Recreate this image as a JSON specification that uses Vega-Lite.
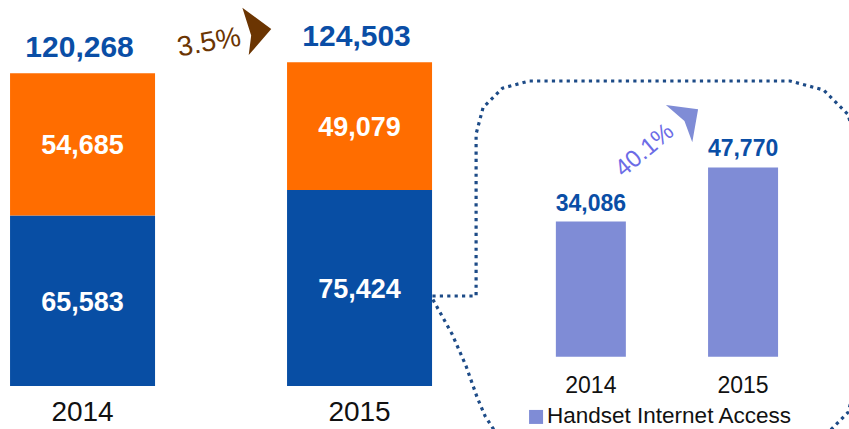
{
  "$schema": "https://vega.github.io/schema/vega-lite/v6.json",
  "width": 849,
  "height": 429,
  "autosize": {"type": "fit", "contains": "padding"},
  "padding": 0,
  "background": "white",
  "config": {"view": {"stroke": null}, "font": "Liberation Sans"},
  "datasets": {
    "subscribers": [
      {"year": 2014, "segment": "A", "value": 65583},
      {"year": 2014, "segment": "B", "value": 54685},
      {"year": 2015, "segment": "A", "value": 75424},
      {"year": 2015, "segment": "B", "value": 49079}
    ],
    "totals": [
      {"year": 2014, "total": 120268},
      {"year": 2015, "total": 124503}
    ],
    "handset": [
      {"year": 2014, "users": 34086},
      {"year": 2015, "users": 47770}
    ],
    "callout": [
      {"i": 0, "x": 2014.060, "y": -22532},
      {"i": 1, "x": 2013.600, "y": -22532},
      {"i": 2, "x": 2013.469, "y": -21523},
      {"i": 3, "x": 2013.364, "y": -18495},
      {"i": 4, "x": 2013.305, "y": -14962},
      {"i": 5, "x": 2013.252, "y": -10168},
      {"i": 6, "x": 2013.180, "y": -2346},
      {"i": 7, "x": 2013.088, "y": 5729},
      {"i": 8, "x": 2012.960, "y": 14560},
      {"i": 9, "x": 2012.956, "y": 15320},
      {"i": 10, "x": 2013.246, "y": 15320},
      {"i": 11, "x": 2013.246, "y": 56195},
      {"i": 12, "x": 2013.292, "y": 62882},
      {"i": 13, "x": 2013.420, "y": 67777},
      {"i": 14, "x": 2013.594, "y": 69568},
      {"i": 15, "x": 2015.309, "y": 69568},
      {"i": 16, "x": 2015.529, "y": 67297},
      {"i": 17, "x": 2015.690, "y": 61115},
      {"i": 18, "x": 2015.749, "y": 52662},
      {"i": 19, "x": 2015.749, "y": -5626},
      {"i": 20, "x": 2015.690, "y": -14079},
      {"i": 21, "x": 2015.529, "y": -20261},
      {"i": 22, "x": 2015.309, "y": -22532}
    ]
  },
  "layer": [
    {
      "layer": [
        {
          "data": {"name": "subscribers"},
          "transform": [
            {"stack": "value", "groupby": ["year"], "sort": [{"field": "segment"}], "as": ["v0", "v1"]}
          ],
          "mark": {"type": "bar", "width": 145},
          "encoding": {
            "x": {"field": "year", "type": "quantitative", "axis": null,
                  "scale": {"domain": [2013.702, 2016.767], "padding": 0, "nice": false, "zero": false}},
            "y": {"field": "v0", "type": "quantitative", "axis": null,
                  "scale": {"domain": [-16538, 148462], "nice": false, "zero": false}},
            "y2": {"field": "v1"},
            "color": {"field": "segment", "type": "nominal", "legend": null,
                      "scale": {"domain": ["A", "B"], "range": ["#084ea4", "#ff6d00"]}}
          }
        },
        {
          "data": {"name": "subscribers"},
          "transform": [
            {"stack": "value", "groupby": ["year"], "sort": [{"field": "segment"}], "as": ["v0", "v1"]},
            {"calculate": "(datum.v0 + datum.v1) / 2", "as": "mid"}
          ],
          "mark": {"type": "text", "color": "white", "fontWeight": "bold", "fontSize": 27, "baseline": "middle", "align": "center", "dy": 2},
          "encoding": {
            "x": {"field": "year", "type": "quantitative"},
            "y": {"field": "mid", "type": "quantitative"},
            "text": {"field": "value", "type": "quantitative", "format": ","}
          }
        },
        {
          "data": {"name": "totals"},
          "mark": {"type": "text", "color": "#0a4ea6", "fontWeight": "bold", "fontSize": 30, "baseline": "alphabetic", "align": "center", "dy": -16.5, "dx": -3},
          "encoding": {
            "x": {"field": "year", "type": "quantitative"},
            "y": {"field": "total", "type": "quantitative"},
            "text": {"field": "total", "type": "quantitative", "format": ","}
          }
        },
        {
          "data": {"name": "totals"},
          "mark": {"type": "text", "color": "#111111", "fontSize": 28, "baseline": "alphabetic", "align": "center", "dy": 35},
          "encoding": {
            "x": {"field": "year", "type": "quantitative"},
            "y": {"datum": 0, "type": "quantitative"},
            "text": {"field": "year", "type": "quantitative", "format": "d"}
          }
        },
        {
          "data": {"values": [{"growth": "3.5%"}]},
          "mark": {"type": "text", "color": "#6b3502", "fontSize": 28, "baseline": "middle", "align": "center", "angle": -10},
          "encoding": {
            "x": {"datum": 2014.457, "type": "quantitative"},
            "y": {"datum": 131923, "type": "quantitative"},
            "text": {"field": "growth", "type": "nominal"}
          }
        },
        {
          "data": {"values": [{"growth": "3.5%"}]},
          "mark": {"type": "point", "filled": true, "opacity": 1, "color": "#6b3502", "size": 2400,
                   "shape": "M-0.6,-0.95 L0.58,-0.08 L-0.34,0.98 L-0.24,0.18 Z"},
          "encoding": {
            "x": {"datum": 2014.630, "type": "quantitative"},
            "y": {"datum": 136538, "type": "quantitative"}
          }
        }
      ]
    },
    {
      "layer": [
        {
          "data": {"name": "callout"},
          "mark": {"type": "line", "clip": true, "color": "#1d4b87", "strokeWidth": 3.2, "strokeDash": [3.2, 4.2], "strokeCap": "butt"},
          "encoding": {
            "x": {"field": "x", "type": "quantitative", "axis": null,
                  "scale": {"domain": [2010.118, 2015.696], "padding": 0, "nice": false, "zero": false}},
            "y": {"field": "y", "type": "quantitative", "axis": null,
                  "scale": {"domain": [-18244, 90007], "nice": false, "zero": false}},
            "order": {"field": "i", "type": "quantitative"}
          }
        },
        {
          "data": {"name": "handset"},
          "mark": {"type": "bar", "width": 70, "color": "#7f8cd6"},
          "encoding": {
            "x": {"field": "year", "type": "quantitative"},
            "y": {"field": "users", "type": "quantitative"}
          }
        },
        {
          "data": {"name": "handset"},
          "mark": {"type": "text", "color": "#0a4ea6", "fontWeight": "bold", "fontSize": 23, "baseline": "alphabetic", "align": "center", "dy": -11},
          "encoding": {
            "x": {"field": "year", "type": "quantitative"},
            "y": {"field": "users", "type": "quantitative"},
            "text": {"field": "users", "type": "quantitative", "format": ","}
          }
        },
        {
          "data": {"name": "handset"},
          "mark": {"type": "text", "color": "#111111", "fontSize": 23, "baseline": "alphabetic", "align": "center", "dy": 36},
          "encoding": {
            "x": {"field": "year", "type": "quantitative"},
            "y": {"datum": 0, "type": "quantitative"},
            "text": {"field": "year", "type": "quantitative", "format": "d"}
          }
        },
        {
          "data": {"values": [{"growth": "40.1%"}]},
          "mark": {"type": "text", "color": "#6c6ce6", "fontSize": 24, "baseline": "middle", "align": "center", "angle": -40},
          "encoding": {
            "x": {"datum": 2014.355, "type": "quantitative"},
            "y": {"datum": 52000, "type": "quantitative"},
            "text": {"field": "growth", "type": "nominal"}
          }
        },
        {
          "data": {"values": [{"growth": "40.1%"}]},
          "mark": {"type": "point", "filled": true, "opacity": 1, "color": "#7f8cd6", "size": 2000,
                   "shape": "M-0.81,-0.67 L0.63,-0.48 L0.37,1 L0.02,0.05 Z"},
          "encoding": {
            "x": {"datum": 2014.612, "type": "quantitative"},
            "y": {"datum": 59727, "type": "quantitative"}
          }
        },
        {
          "data": {"values": [{"series": "Handset Internet Access"}]},
          "mark": {"type": "point", "filled": true, "opacity": 1, "shape": "square", "color": "#7f8cd6", "size": 196},
          "encoding": {
            "x": {"datum": 2013.640, "type": "quantitative"},
            "y": {"datum": -15200, "type": "quantitative"}
          }
        },
        {
          "data": {"values": [{"series": "Handset Internet Access"}]},
          "mark": {"type": "text", "clip": true, "color": "#111111", "fontSize": 22.5, "baseline": "alphabetic", "align": "left"},
          "encoding": {
            "x": {"datum": 2013.712, "type": "quantitative"},
            "y": {"datum": -16700, "type": "quantitative"},
            "text": {"field": "series", "type": "nominal"}
          }
        }
      ]
    }
  ],
  "resolve": {"scale": {"x": "independent", "y": "independent"}}
}
